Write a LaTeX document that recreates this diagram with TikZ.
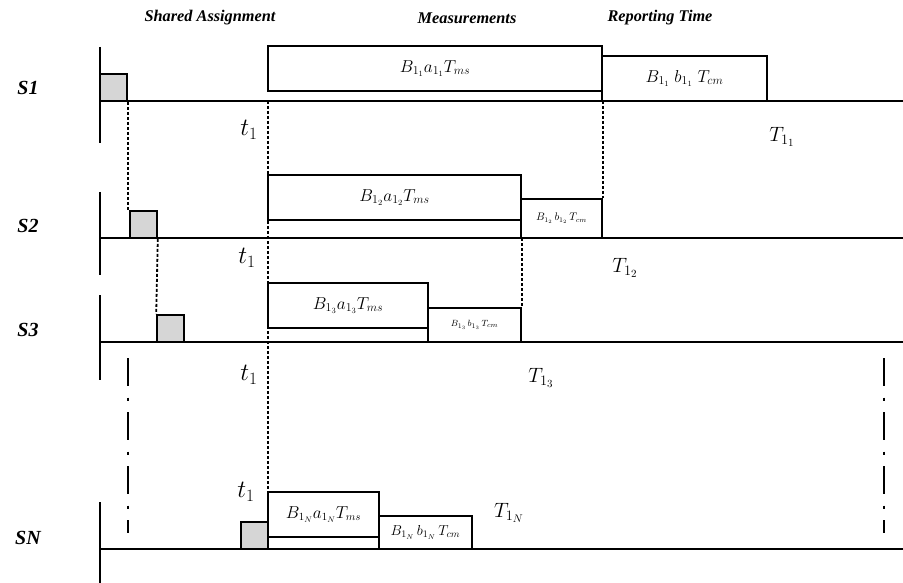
\documentclass[tikz,border=0pt]{standalone}
\usepackage{fontspec}
\setmainfont{Liberation Serif}
\begin{document}
\begin{tikzpicture}[x=1pt,y=-1pt,
  box/.style={draw, line width=1.6pt, fill=white, rectangle, inner sep=0pt, font=\fontsize{17}{19}\selectfont},
  slot/.style={draw, line width=1.6pt, fill=black!16, rectangle, inner sep=0pt, minimum width=27pt, minimum height=27pt},
  axis/.style={line width=1.6pt},
  guide/.style={line width=1.8pt, dash pattern=on 3pt off 2pt},
  gap/.style={line width=2.4pt, dash pattern=on 28pt off 11.5pt on 3pt off 11.5pt},
  lbl/.style={font=\fontsize{16.3}{18}\selectfont\bfseries\itshape},
  rowlbl/.style={font=\fontsize{20}{22}\selectfont\bfseries\itshape},
  tlbl/.style={font=\fontsize{25}{27}\selectfont},
  Tlbl/.style={font=\fontsize{21}{23}\selectfont}]
\useasboundingbox (0,0) rectangle (903,583);

\node[lbl] (hsa) at (210,18) {Shared Assignment};
\node[lbl] (hms) at (467,18) {Measurements};
\node[lbl] (hrt) at (660,18) {Reporting Time};

\node[rowlbl] (s1) at (28,88) {S1};
\node[rowlbl] (s2) at (28,226) {S2};
\node[rowlbl] (s3) at (28,330) {S3};
\node[rowlbl] (sn) at (28,538) {SN};

\coordinate (a1s) at (100,101); \coordinate (a1e) at (903,101);
\coordinate (a2s) at (100,238); \coordinate (a2e) at (903,238);
\coordinate (a3s) at (100,342); \coordinate (a3e) at (903,342);
\coordinate (ans) at (100,549); \coordinate (ane) at (903,549);
\draw[axis] (a1s) -- (a1e);
\draw[axis] (a2s) -- (a2e);
\draw[axis] (a3s) -- (a3e);
\draw[axis] (ans) -- (ane);
\draw[axis] (100,47) -- (100,143);
\draw[axis] (100,192) -- (100,275);
\draw[axis] (100,295) -- (100,380);
\draw[axis] (100,502) -- (100,583);

\node[slot] (g1) at (113.5,87.5) {};
\node[slot] (g2) at (143.5,224.5) {};
\node[slot] (g3) at (170.5,328.5) {};
\node[slot] (gn) at (254.5,535.5) {};

\draw[guide] (g1.south east) -- (g1.south east |- g2.north);
\draw[guide] (g2.south east) -- (g3.north west);
\draw[guide] (268,101) -- (268,492);

\node[box, minimum width=334pt, minimum height=45pt] (m1) at (435,68.5) {$B_{1_1}a_{1_1}T_{ms}$};
\node[box, minimum width=165pt, minimum height=45pt] (r1) at (684.5,78.5) {$B_{1_1}\;b_{1_1}\;T_{cm}$};
\node[box, minimum width=253pt, minimum height=45pt] (m2) at (394.5,197.5) {$B_{1_2}a_{1_2}T_{ms}$};
\node[box, minimum width=81pt, minimum height=39pt, font=\fontsize{10.5}{12}\selectfont] (r2) at (561.5,218.5) {$B_{1_2}\,b_{1_2}\,T_{cm}$};
\node[box, minimum width=160pt, minimum height=45pt] (m3) at (348,305.5) {$B_{1_3}a_{1_3}T_{ms}$};
\node[box, minimum width=93pt, minimum height=34pt, font=\fontsize{9.5}{11}\selectfont] (r3) at (474.5,325) {$B_{1_3}\,b_{1_3}\,T_{cm}$};
\node[box, minimum width=111pt, minimum height=45pt, font=\fontsize{16}{18}\selectfont] (mn) at (323.5,514.5) {$B_{1_N}a_{1_N}T_{ms}$};
\node[box, minimum width=93pt, minimum height=33pt, font=\fontsize{14}{16}\selectfont] (rn) at (425.5,532.5) {$B_{1_N}\,b_{1_N}\,T_{cm}$};

\draw[guide] (m1.south east |- a1s) -- (r2.north east);
\draw[guide] (m2.south east |- a2s) -- (r3.north east);

\coordinate (d1) at (128,358); \coordinate (d2) at (128,533);
\coordinate (d3) at (884,358); \coordinate (d4) at (884,533);
\draw[gap] (d1) -- (d2);
\draw[gap] (d3) -- (d4);

\node[tlbl] (t1) at (249,130) {$t_1$};
\node[tlbl] (t2) at (247,258) {$t_1$};
\node[tlbl] (t3) at (249,375) {$t_1$};
\node[tlbl] (tn) at (246,492) {$t_1$};
\node[Tlbl] (T1) at (782,137) {$T_{1_1}$};
\node[Tlbl] (T2) at (625,268) {$T_{1_2}$};
\node[Tlbl] (T3) at (541,378) {$T_{1_3}$};
\node[Tlbl] (TN) at (509,513) {$T_{1_N}$};
\end{tikzpicture}
\end{document}
